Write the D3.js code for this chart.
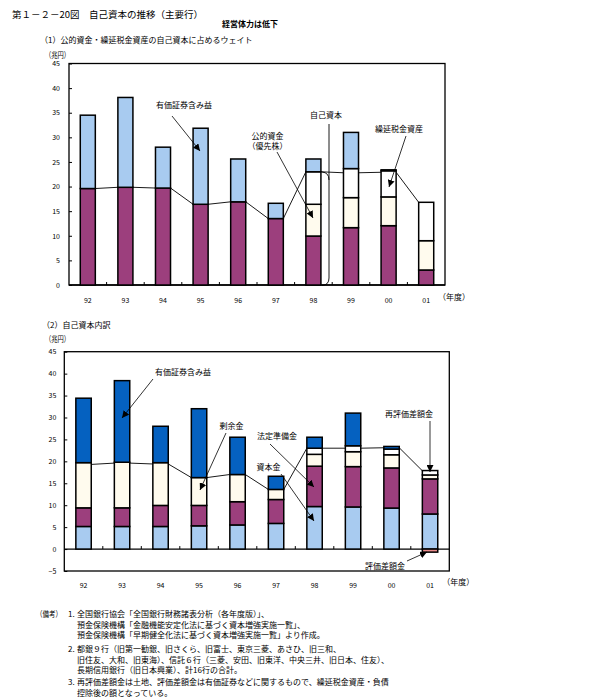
<!DOCTYPE html>
<html><head><meta charset="utf-8">
<script src="https://cdn.jsdelivr.net/npm/d3@7"></script>
<style>
body{margin:0;background:#fff}
svg{display:block}
text{font-family:"Noto Sans CJK JP","Noto Sans",sans-serif;fill:#000}
</style>
</head><body>
<svg id="c" width="600" height="700"></svg>
<script>
// ---------- data ----------
const years = ["92","93","94","95","96","97","98","99","00","01"];
const yTicks1 = [0,5,10,15,20,25,30,35,40,45];
const yTicks2 = [-5,0,5,10,15,20,25,30,35,40,45];

// Panel 1 (兆円)
const p1Equity  = [19.6,19.85,19.7,16.4,16.9,13.5,9.95,11.65,12.05,3.05]; // 自己資本（除く公的資金・繰延税金資産）
const p1Public  = [0,0,0,0,0,0,6.45,6.1,5.85,5.95];                       // 公的資金（優先株）
const p1DTA     = [0,0,0,0,0,0,6.6,5.9,5.3,7.8];                          // 繰延税金資産
const p1Gains   = [14.9,18.25,8.3,15.45,8.7,3.1,2.6,7.35,0.2,0];          // 有価証券含み益
const p1Line    = [19.6,19.85,19.7,16.4,16.9,13.5,23.0,22.8,22.9,16.8];   // 自己資本

// Panel 2 (兆円)
const p2Capital = [5.15,5.15,5.15,5.3,5.5,5.85,9.7,9.6,9.35,8.0];         // 資本金
const p2Legal   = [4.25,4.25,4.8,4.65,5.3,5.45,9.2,9.2,9.15,8.0];         // 法定準備金
const p2Surplus = [10.3,10.4,9.75,6.35,6.2,2.3,2.7,3.4,3.0,0.9];          // 剰余金
const p2Reval   = [0,0,0,0,0,0,1.4,1.35,1.3,1.0];                         // 再評価差額金
const p2Valdiff = [0,0,0,0,0,0,0,0,0,-0.7];                               // 評価差額金
const p2Gains   = [14.7,18.6,8.3,15.7,8.5,3.0,2.5,7.45,0.6,0];            // 有価証券含み益
const p2Line    = [19.3,19.6,19.4,16.3,17.0,13.6,23.0,23.0,23.1,17.85];   // 自己資本

const notes = [
  ["（備考）","1.","全国銀行協会「全国銀行財務諸表分析（各年度版）」、"],
  ["","","預金保険機構「金融機能安定化法に基づく資本増強実施一覧」、"],
  ["","","預金保険機構「早期健全化法に基づく資本増強実施一覧」より作成。"],
  ["","2.","都銀９行（旧第一勧銀、旧さくら、旧富士、東京三菱、あさひ、旧三和、"],
  ["","","旧住友、大和、旧東海）、信託６行（三菱、安田、旧東洋、中央三井、旧日本、住友）、"],
  ["","","長期信用銀行（旧日本興業）、計16行の合計。"],
  ["","3.","再評価差額金は土地、評価差額金は有価証券などに関するもので、繰延税金資産・負債"],
  ["","","控除後の額となっている。"]
];

// ---------- drawing ----------
const svg = d3.select("#c");
const defs = svg.append("defs");
defs.append("marker").attr("id","arr").attr("viewBox","0 0 10 10")
  .attr("refX",10).attr("refY",5).attr("markerWidth",7).attr("markerHeight",7)
  .attr("markerUnits","userSpaceOnUse").attr("orient","auto")
  .append("path").attr("d","M0,0L10,5L0,10z").attr("fill","#000");

function txt(x,y,s,size,anchor){
  return svg.append("text").attr("x",x).attr("y",y).attr("font-size",size)
    .attr("text-anchor",anchor||"start").text(s);
}

txt(12,18,"第１－２－20図　自己資本の推移（主要行）",9.5);
txt(250,27,"経営体力は低下",8,"middle").attr("font-weight","bold");
txt(40,43,"（1）公的資金・繰延税金資産の自己資本に占めるウェイト",8);
txt(45,57.5,"（兆円）",8).attr("textLength",25).attr("lengthAdjust","spacingAndGlyphs");
txt(42,328,"（2）自己資本内訳",8);
txt(45,342,"（兆円）",8).attr("textLength",25).attr("lengthAdjust","spacingAndGlyphs");

function panel(cfg){
  const g = svg.append("g");
  const x = d3.scaleBand().domain(years).range([cfg.x0,cfg.x1]).paddingInner(0.6).paddingOuter(0.3);
  const y = d3.scaleLinear().domain(cfg.domain).range([cfg.yb,cfg.yt]);
  const rows = years.map((yr,i)=>{const o={year:yr}; cfg.keys.forEach(k=>o[k]=cfg.series[k][i]); return o;});
  const stack = d3.stack().keys(cfg.keys).offset(d3.stackOffsetDiverging)(rows);

  g.append("rect").attr("x",cfg.x0).attr("y",cfg.yt).attr("width",cfg.x1-cfg.x0).attr("height",cfg.yb-cfg.yt)
    .attr("fill","none").attr("stroke","#000").attr("stroke-width",1.3);
  g.append("line").attr("x1",cfg.x0).attr("x2",cfg.x1).attr("y1",y(0)).attr("y2",y(0))
    .attr("stroke","#000").attr("stroke-width",1.3);

  const ya = g.append("g").attr("transform",`translate(${cfg.x0},0)`)
    .call(d3.axisLeft(y).tickValues(cfg.ticks).tickSizeInner(-3).tickSizeOuter(0).tickPadding(cfg.tickPad).tickFormat(d3.format("d")));
  ya.select(".domain").remove();
  ya.selectAll("line").attr("stroke","#000");
  ya.selectAll("text").attr("font-size",7).attr("font-family","'Liberation Sans',sans-serif");

  const xa = g.append("g").attr("transform",`translate(0,${cfg.labelY})`)
    .call(d3.axisBottom(x).tickSize(0).tickPadding(0));
  xa.select(".domain").remove();
  xa.selectAll("text").attr("font-size",7).attr("font-family","'Liberation Sans',sans-serif").attr("dy",0);

  const step = x.step();
  years.slice(1).forEach(yr=>{
    const xx = x(yr) - step*0.3;
    g.append("line").attr("x1",xx).attr("x2",xx).attr("y1",y(0)).attr("y2",y(0)-3).attr("stroke","#000");
  });

  const lv = cfg.line;
  for(let i=0;i<years.length-1;i++){
    g.append("line").attr("x1",x(years[i])+x.bandwidth()).attr("y1",y(lv[i]))
      .attr("x2",x(years[i+1])).attr("y2",y(lv[i+1])).attr("stroke","#000").attr("stroke-width",0.9);
  }

  stack.forEach(layer=>{
    g.append("g").selectAll("rect").data(layer.filter(d=>d[1]!==d[0])).join("rect")
      .attr("x",d=>x(d.data.year)).attr("width",x.bandwidth())
      .attr("y",d=>y(Math.max(d[0],d[1]))).attr("height",d=>Math.abs(y(d[0])-y(d[1])))
      .attr("fill",cfg.colors[layer.key]).attr("stroke","#000").attr("stroke-width",1.5);
  });

  txt(cfg.x1-7,cfg.labelY-3,"（年度）",8);
  return {x,y};
}

panel({
  x0:69,x1:445,yt:63.5,yb:285,domain:[0,45],ticks:yTicks1,tickPad:9,labelY:303,
  keys:["eq","pub","dta","gain"],
  series:{eq:p1Equity,pub:p1Public,dta:p1DTA,gain:p1Gains},
  colors:{eq:"#9c3f7d",pub:"#fffbee",dta:"#ffffff",gain:"#a8cbf0"},
  line:p1Line
});

panel({
  x0:64.3,x1:449.3,yt:351.7,yb:571,domain:[-5,45],ticks:yTicks2,tickPad:8,labelY:588,
  keys:["cap","leg","sur","rev","val","gain"],
  series:{cap:p2Capital,leg:p2Legal,sur:p2Surplus,rev:p2Reval,val:p2Valdiff,gain:p2Gains},
  colors:{cap:"#a8cbf0",leg:"#9c3f7d",sur:"#fffbee",rev:"#ffffff",val:"#e88a8a",gain:"#0561c0"},
  line:p2Line
});

// ---------- annotations ----------
function arrow(x1,y1,x2,y2){
  svg.append("line").attr("x1",x1).attr("y1",y1).attr("x2",x2).attr("y2",y2)
    .attr("stroke","#000").attr("stroke-width",0.8).attr("marker-end","url(#arr)");
}
txt(184,108,"有価証券含み益",8,"middle");
arrow(172,116,200,151);
txt(267.5,139,"公的資金",8,"middle");
txt(267.5,148.5,"（優先株）",8,"middle");
arrow(277,152,313,218);
txt(326,118,"自己資本",8,"middle");
svg.append("path").attr("d","M329,124V278Q329,285 322,285.5").attr("fill","none").attr("stroke","#000").attr("stroke-width",0.9);
svg.append("path").attr("d","M322,172Q329,172.5 329,180").attr("fill","none").attr("stroke","#000").attr("stroke-width",0.9);
txt(399,132,"繰延税金資産",8,"middle");
arrow(406,136,389,187);

txt(183,375,"有価証券含み益",8,"middle");
arrow(153,379,122,418);
txt(231.5,429,"剰余金",8,"middle");
arrow(226,433,200,490);
txt(277,439,"法定準備金",8,"middle");
arrow(270,444,314,487);
txt(268.5,470,"資本金",8,"middle");
arrow(281,474,314,521);
txt(409,417,"再評価差額金",8,"middle");
arrow(430,421,430,472);
txt(385,569,"評価差額金",8,"middle");
arrow(407,561,427,552);

// ---------- notes ----------
const noteY = [617,627.5,638,652,662.5,673,685,695.5];
notes.forEach((n,i)=>{
  if(n[0]) txt(36,noteY[i],n[0],8).attr("textLength",26).attr("lengthAdjust","spacingAndGlyphs");
  if(n[1]) txt(68,noteY[i],n[1],8);
  txt(77,noteY[i],n[2],8);
});
</script>
</body></html>
